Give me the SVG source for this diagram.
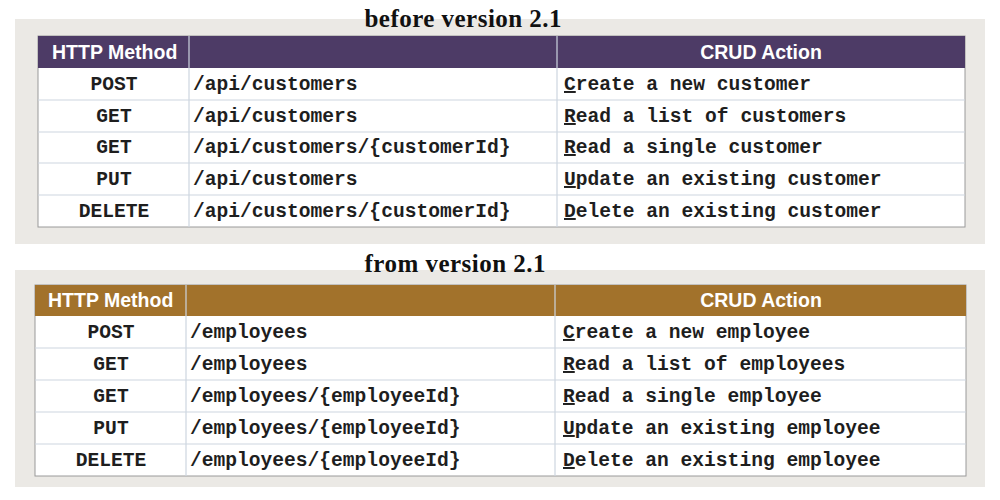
<svg xmlns="http://www.w3.org/2000/svg" width="1000" height="500" viewBox="0 0 1000 500">
<style>
.panel{fill:#ebe9e5}
.body{fill:#ffffff;stroke:#9a9a9a;stroke-width:1}
.grid{stroke:#cdd5e0;stroke-width:1.2}
.title{font-family:"Liberation Serif",serif;font-weight:bold;font-size:25px;fill:#111}
.hd{font-family:"Liberation Sans",Arial,sans-serif;font-weight:bold;font-size:19.5px;fill:#ffffff}
.m{font-family:"Liberation Mono","Courier New",monospace;font-weight:bold;font-size:19.6px;fill:#1e1e1e}
.c{text-anchor:middle}
</style>
<rect width="1000" height="500" fill="#ffffff"/>
<rect class="panel" x="15" y="19" width="970" height="225"/>
<rect class="panel" x="15" y="270" width="970" height="217"/>
<g id="title-before"><text class="title c" x="463" y="27" textLength="197">before version 2.1</text></g>
<g id="table-before">
<rect class="body" x="38" y="36" width="927" height="191"/>
<rect x="38" y="36" width="927" height="32" fill="#4d3b66"/>
<g class="grid">
<line x1="38" y1="100" x2="965" y2="100"/>
<line x1="38" y1="132" x2="965" y2="132"/>
<line x1="38" y1="163" x2="965" y2="163"/>
<line x1="38" y1="195" x2="965" y2="195"/>
<line x1="189" y1="36" x2="189" y2="227"/>
<line x1="557" y1="36" x2="557" y2="227"/>
</g>
<text class="hd" x="52" y="59">HTTP Method</text>
<text class="hd c" x="761" y="59">CRUD Action</text>
<text class="m c" x="114" y="90">POST</text>
<text class="m c" x="114" y="122">GET</text>
<text class="m c" x="114" y="153">GET</text>
<text class="m c" x="114" y="185">PUT</text>
<text class="m c" x="114" y="217">DELETE</text>
<text class="m" x="193" y="90">/api/customers</text>
<text class="m" x="193" y="122">/api/customers</text>
<text class="m" x="193" y="153">/api/customers/{customerId}</text>
<text class="m" x="193" y="185">/api/customers</text>
<text class="m" x="193" y="217">/api/customers/{customerId}</text>
<text class="m" x="564" y="90"><tspan text-decoration="underline">C</tspan>reate a new customer</text>
<text class="m" x="564" y="122"><tspan text-decoration="underline">R</tspan>ead a list of customers</text>
<text class="m" x="564" y="153"><tspan text-decoration="underline">R</tspan>ead a single customer</text>
<text class="m" x="564" y="185"><tspan text-decoration="underline">U</tspan>pdate an existing customer</text>
<text class="m" x="564" y="217"><tspan text-decoration="underline">D</tspan>elete an existing customer</text>
</g>
<g id="title-from"><text class="title c" x="455" y="272" textLength="181">from version 2.1</text></g>
<g id="table-from">
<rect class="body" x="35" y="285" width="931" height="191"/>
<rect x="35" y="285" width="931" height="31" fill="#a2722b"/>
<g class="grid">
<line x1="35" y1="348" x2="966" y2="348"/>
<line x1="35" y1="380" x2="966" y2="380"/>
<line x1="35" y1="412" x2="966" y2="412"/>
<line x1="35" y1="444" x2="966" y2="444"/>
<line x1="186" y1="285" x2="186" y2="476"/>
<line x1="555" y1="285" x2="555" y2="476"/>
</g>
<text class="hd" x="48" y="307">HTTP Method</text>
<text class="hd c" x="761" y="307">CRUD Action</text>
<text class="m c" x="111" y="338">POST</text>
<text class="m c" x="111" y="370">GET</text>
<text class="m c" x="111" y="402">GET</text>
<text class="m c" x="111" y="434">PUT</text>
<text class="m c" x="111" y="466">DELETE</text>
<text class="m" x="190" y="338">/employees</text>
<text class="m" x="190" y="370">/employees</text>
<text class="m" x="190" y="402">/employees/{employeeId}</text>
<text class="m" x="190" y="434">/employees/{employeeId}</text>
<text class="m" x="190" y="466">/employees/{employeeId}</text>
<text class="m" x="563" y="338"><tspan text-decoration="underline">C</tspan>reate a new employee</text>
<text class="m" x="563" y="370"><tspan text-decoration="underline">R</tspan>ead a list of employees</text>
<text class="m" x="563" y="402"><tspan text-decoration="underline">R</tspan>ead a single employee</text>
<text class="m" x="563" y="434"><tspan text-decoration="underline">U</tspan>pdate an existing employee</text>
<text class="m" x="563" y="466"><tspan text-decoration="underline">D</tspan>elete an existing employee</text>
</g>
</svg>
